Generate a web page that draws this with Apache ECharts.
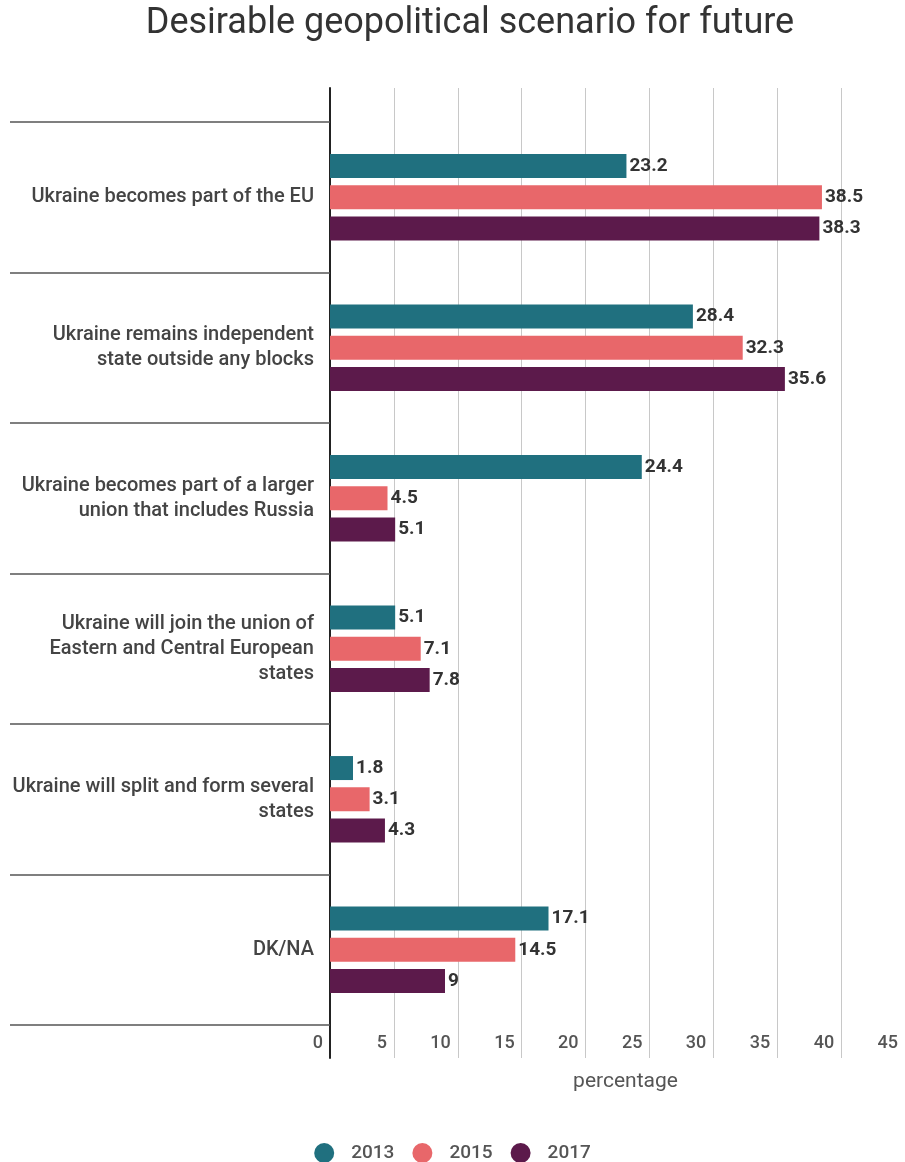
<!DOCTYPE html>
<html>
<head>
<meta charset="utf-8">
<script src="https://cdn.jsdelivr.net/npm/echarts@6/dist/echarts.min.js"></script>
<style>
html,body{margin:0;padding:0;background:#fff;}
#chart{width:905px;height:1162px;}
</style>
</head>
<body>
<div id="chart"></div>
<script>
const categories = [
  "Ukraine becomes part of the EU",
  "Ukraine remains independent\nstate outside any blocks",
  "Ukraine becomes part of a larger\nunion that includes Russia",
  "Ukraine will join the union of\nEastern and Central European\nstates",
  "Ukraine will split and form several\nstates",
  "DK/NA"
];
const seriesNames = ["2013", "2015", "2017"];
const values2013 = [23.2, 28.4, 24.4, 5.1, 1.8, 17.1];
const values2015 = [38.5, 32.3, 4.5, 7.1, 3.1, 14.5];
const values2017 = [38.3, 35.6, 5.1, 7.8, 4.3, 9];
const colors = ["#20707f", "#e8676a", "#5c1a4b"];

const FONT = "Roboto";
const chart = echarts.init(document.getElementById('chart'), null, {renderer: 'canvas'});

const valueSets = [values2013, values2015, values2017];
const series = seriesNames.map((name, i) => ({
  name: name,
  type: 'bar',
  xAxisIndex: 1,
  yAxisIndex: 1,
  data: valueSets[i],
  barWidth: 24,
  barGap: '30%',
  itemStyle: {color: colors[i]},
  label: {
    show: true,
    position: 'right',
    distance: 3,
    fontFamily: FONT,
    fontWeight: 'bold',
    fontSize: 19,
    color: '#333'
  }
}));

chart.setOption({
  animation: false,
  backgroundColor: '#fff',
  color: colors,
  title: {
    text: 'Desirable geopolitical scenario for future',
    left: 465,
    textAlign: 'center',
    top: 1,
    textStyle: {fontFamily: FONT, fontSize: 36, fontWeight: 'normal', color: '#333'}
  },
  legend: {
    data: seriesNames,
    left: 'center',
    top: 1138,
    icon: 'circle',
    itemWidth: 20,
    itemHeight: 20,
    itemGap: 18,
    textStyle: {fontFamily: FONT, fontSize: 19, fontWeight: 500, color: '#555', padding: [0, 0, 0, 12]}
  },
  grid: [
    {left: 330, right: -5, top: 88, bottom: 104, containLabel: false},
    {left: 330, right: -5, top: 122, bottom: 137, containLabel: false}
  ],
  xAxis: [
    {
      gridIndex: 0, type: 'value', min: 0, max: 45, interval: 5,
      axisLabel: {show: false}, axisLine: {show: false}, axisTick: {show: false},
      splitLine: {show: true, lineStyle: {color: '#c8c8c8', width: 1}}
    },
    {
      gridIndex: 1, type: 'value', min: 0, max: 45, interval: 5,
      axisLine: {show: false}, axisTick: {show: false}, splitLine: {show: false},
      axisLabel: {
        show: true, margin: 9, align: 'right', padding: [0, 7, 0, 0],
        fontFamily: FONT, fontSize: 18, fontWeight: 500, color: '#555'
      },
      name: 'percentage',
      nameLocation: 'middle',
      nameGap: 46,
      nameTextStyle: {fontFamily: FONT, fontSize: 21, color: '#555', padding: [0, 0, 0, 16]}
    }
  ],
  yAxis: [
    {
      gridIndex: 0, type: 'value', min: 0, max: 1,
      axisLine: {show: true, lineStyle: {color: '#222', width: 2}},
      axisTick: {show: false}, axisLabel: {show: false}, splitLine: {show: false}
    },
    {
      gridIndex: 1, type: 'category', data: categories, inverse: true,
      axisLine: {show: false},
      axisTick: {show: true, length: 320, lineStyle: {color: '#555', width: 1.5}},
      splitLine: {show: false},
      axisLabel: {
        margin: 16, align: 'right', fontFamily: FONT, fontSize: 20, fontWeight: 500,
        color: '#444', lineHeight: 25
      }
    }
  ],
  series: series
});
</script>
</body>
</html>
